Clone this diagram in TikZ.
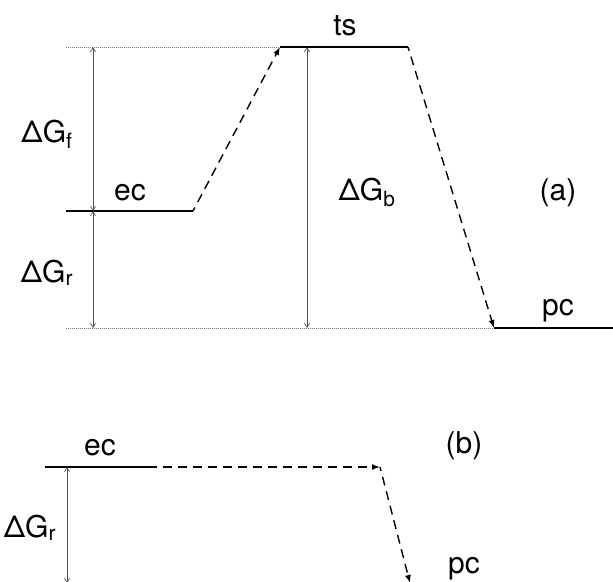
\documentclass[tikz,border=0pt]{standalone}
\usepackage{fontspec}
\setmainfont{TeX Gyre Heros}
\usetikzlibrary{arrows.meta}
\definecolor{figline}{RGB}{0,0,0}
\definecolor{figguide}{RGB}{120,120,120}
\definecolor{figdim}{RGB}{80,80,80}
\tikzset{
  lvl/.style  ={draw=figline, line width=2.8pt, line cap=butt},
  reac/.style ={draw=figline, line width=1.4pt, dash pattern=on 9pt off 6pt, dash phase=5pt, -{Latex[length=8pt,width=6pt]}},
  gde/.style  ={draw=figguide, line width=0.5pt, dash pattern=on 1pt off 1pt},
  dim/.style  ={draw=figdim, line width=0.7pt, {Straight Barb[length=4pt,width=5pt]}-{Straight Barb[length=4pt,width=5pt]}},
  lab/.style  ={font=\fontsize{30}{34}\selectfont, inner sep=0pt, anchor=base},
}

\begin{document}
\begin{tikzpicture}[x=1pt,y=-1pt]
  \useasboundingbox (0,0) rectangle (613,581);
  \clip (0,0) rectangle (613,581);
  % (a)
  \coordinate (aecL) at (66,211);
  \coordinate (aecR) at (193,211);
  \coordinate (atsL) at (280,47);
  \coordinate (atsR) at (408,47);
  \coordinate (apcL) at (494,328);
  \coordinate (apcR) at (613,328);
  \coordinate (atop) at (66,47);
  \coordinate (abot) at (66,328);
  \draw[gde] (atop) -- (atsL);
  \draw[gde] (abot) -- (apcL);
  \draw[lvl] (aecL) -- (aecR);
  \draw[lvl] (atsL) -- (atsR);
  \draw[lvl] (apcL) -- (apcR);
  \draw[reac] (aecR) -- (atsL);
  \draw[reac] (atsR) -- (apcL);
  \coordinate (afT) at (93,47);
  \coordinate (afM) at (93,211);
  \coordinate (afB) at (93,328);
  \draw[dim] (afT) -- (afM);
  \draw[dim] (afM) -- (afB);
  \coordinate (abT) at (307,47);
  \coordinate (abB) at (307,328);
  \draw[dim] (abT) -- (abB);
  \node[lab] (ats) at (345,35) {ts};
  \node[lab] (aec) at (130,200) {ec};
  \node[lab] (apc) at (558,315) {pc};
  \node[lab] (agf) at (47,142) {ΔG\textsubscript{f}};
  \node[lab] (agr) at (47,282) {ΔG\textsubscript{r}};
  \node[lab] (agb) at (367,200) {ΔG\textsubscript{b}};
  \node[lab] (alab) at (558,200) {(a)};
  % (b)
  \coordinate (becL) at (45,467);
  \coordinate (becR) at (153,467);
  \coordinate (bmid) at (380,467);
  \coordinate (bpc) at (410,583);
  \draw[lvl] (becL) -- (becR);
  \draw[reac] (becR) -- (bmid);
  \draw[reac] (bmid) -- (bpc);
  \coordinate (brT) at (67,467);
  \coordinate (brB) at (67,583);
  \draw[dim] (brT) -- (brB);
  \node[lab] (bec) at (100,455) {ec};
  \node[lab] (bgr) at (30,537) {ΔG\textsubscript{r}};
  \node[lab] (bpc) at (464,573) {pc};
  \node[lab] (blab) at (464,453) {(b)};
\end{tikzpicture}
\end{document}
